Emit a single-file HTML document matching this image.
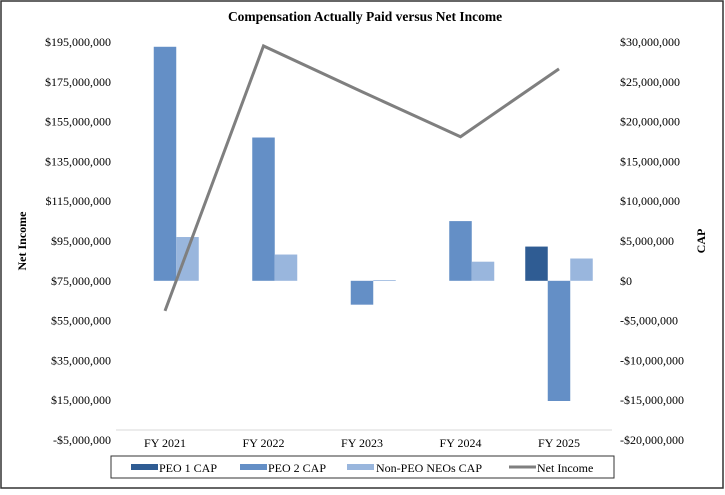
<!DOCTYPE html>
<html><head><meta charset="utf-8"><style>
body{margin:0;background:#fff;}
svg text{font-family:"Liberation Serif",serif;fill:#000;}
</style></head><body>
<svg id="chart" width="725" height="490" xmlns="http://www.w3.org/2000/svg">
<rect x="1" y="1" width="722" height="487" fill="#fff" stroke="#333" stroke-width="1.5"/>
<text x="365" y="21" text-anchor="middle" font-size="13.5" font-weight="bold">Compensation Actually Paid versus Net Income</text>
<g id="axes"></g>
<g id="bars"></g>
<g id="lines"></g>
<text transform="translate(26,241) rotate(-90)" text-anchor="middle" font-size="12" font-weight="bold">Net Income</text>
<text transform="translate(705,241) rotate(-90)" text-anchor="middle" font-size="12" font-weight="bold">CAP</text>
<g>
<rect x="111" y="456" width="503" height="22" fill="#fff" stroke="#333"/>
<rect x="131" y="464" width="27" height="6" fill="#2f5c93"/>
<text x="159" y="472" font-size="12">PEO 1 CAP</text>
<rect x="240" y="464" width="27" height="6" fill="#648fc6"/>
<text x="268" y="472" font-size="12">PEO 2 CAP</text>
<rect x="347" y="464" width="27" height="6" fill="#99b6dd"/>
<text x="376" y="472" font-size="12">Non-PEO NEOs CAP</text>
<rect x="509" y="465.5" width="27" height="3" fill="#7f7f7f"/>
<text x="537" y="472" font-size="12">Net Income</text>
</g>
</svg>
<script>
const categories=["FY 2021","FY 2022","FY 2023","FY 2024","FY 2025"];
const peo1Cap=[null,null,null,null,4.3];
const peo2Cap=[29.4,18.0,-3.0,7.5,-15.1];
const nonPeoCap=[5.5,3.3,0.1,2.4,2.8];
const netIncome=[59.9,193,170,147.4,181.5];
const leftTicks=[-5,15,35,55,75,95,115,135,155,175,195];
const rightTicks=[-20,-15,-10,-5,0,5,10,15,20,25,30];
const NS="http://www.w3.org/2000/svg";
const yTop=42,yBot=440;
function yLeft(v){return yBot-(v-(-5))/200*(yBot-yTop);}
function yRight(v){return yBot-(v-(-20))/50*(yBot-yTop);}
function xCat(i){return 165+i*98.5;}
function fmt(v){const s=Math.abs(v*1e6).toLocaleString('en-US');return (v<0?'-':'')+'$'+s;}
function fmtR(v){const s=Math.abs(v*1e6).toLocaleString('en-US');return (v<0?'-':'')+'$'+s;}
function mk(tag,attrs,parent){const e=document.createElementNS(NS,tag);for(const k in attrs)e.setAttribute(k,attrs[k]);parent.appendChild(e);return e;}
const axes=document.getElementById('axes'),bars=document.getElementById('bars'),lines=document.getElementById('lines');
leftTicks.forEach(v=>{const t=mk('text',{x:111,y:yLeft(v)+4,'text-anchor':'end','font-size':'12'},axes);t.textContent=fmt(v);

});
rightTicks.forEach(v=>{const t=mk('text',{x:620,y:yRight(v)+4,'font-size':'12'},axes);t.textContent=fmtR(v);

});
const ax=mk('line',{x1:116,x2:612,y1:430,y2:430,stroke:'#d9d9d9','stroke-width':1},axes);


categories.forEach((c,i)=>{const t=mk('text',{x:xCat(i),y:447,'text-anchor':'middle','font-size':'12'},axes);t.textContent=c;

});
const series=[[peo1Cap,'#2f5c93','bar-peo1'],[peo2Cap,'#648fc6','bar-peo2'],[nonPeoCap,'#99b6dd','bar-nonpeo']];
const bw=22.5;
series.forEach((s,si)=>{s[0].forEach((v,i)=>{if(v===null)return;
const x=xCat(i)-1.5*bw+si*bw;const y0=yRight(0),y1=yRight(v);
const r=mk('rect',{x:x,y:Math.min(y0,y1),width:bw,height:Math.max(0.8,Math.abs(y1-y0)),fill:s[1]},bars);

});});
const pts=netIncome.map((v,i)=>xCat(i)+','+yLeft(v)).join(' ');
const pl=mk('polyline',{points:pts,fill:'none',stroke:'#7f7f7f','stroke-width':3},lines);


</script>
</body></html>
